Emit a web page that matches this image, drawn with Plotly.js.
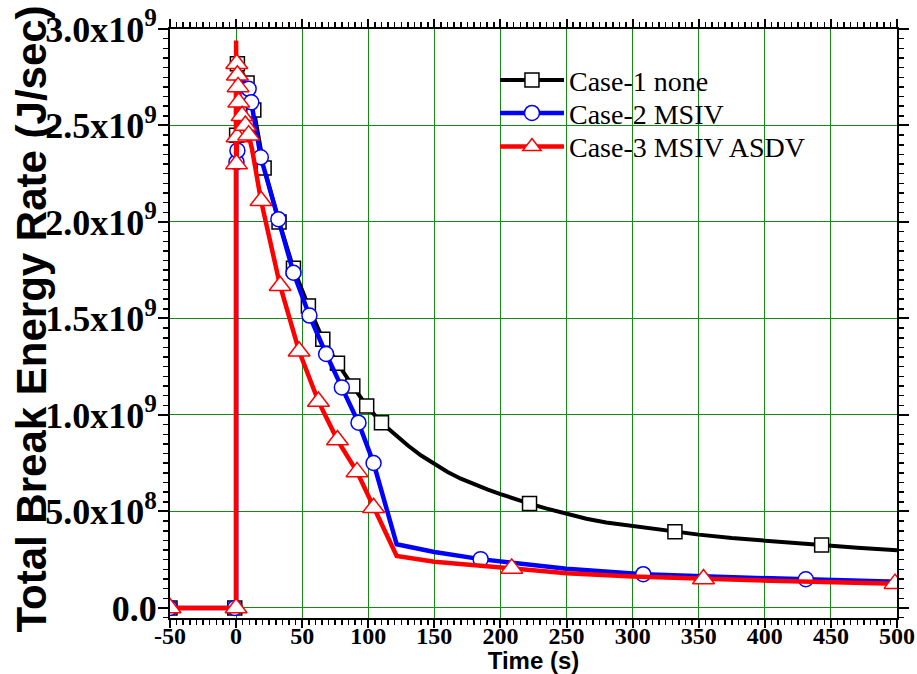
<!DOCTYPE html>
<html>
<head>
<meta charset="utf-8">
<script src="https://cdn.plot.ly/plotly-3.0.1.min.js"></script>
<style>html,body{margin:0;padding:0;background:#fff;}#chart{width:917px;height:674px;}</style>
</head>
<body>
<div id="chart"></div>
<script>
// ---- Data (time in s, energy rate in J/sec) ----
const case1Name = "Case-1 none";
const case2Name = "Case-2 MSIV";
const case3Name = "Case-3 MSIV ASDV";

// Case-1 curve
const case1T = [-50, 0, 0, 0.4, 1, 3, 8.3, 13.4, 21.2, 32.5, 43.4, 54.7, 65.6, 76.7, 88.3, 98.8, 110, 115, 120, 125, 130, 140, 150, 160, 170, 180, 190, 200, 210, 222, 235, 250, 265, 280, 300, 315, 332, 350, 375, 400, 420, 443, 470, 500];
const case1V = [0, 0, 2.80e9, 2.45e9, 2.82e9, 2.80e9, 2.72e9, 2.58e9, 2.28e9, 2.00e9, 1.76e9, 1.565e9, 1.392e9, 1.268e9, 1.15e9, 1.047e9, 0.96e9, 0.93e9, 0.90e9, 0.87e9, 0.842e9, 0.79e9, 0.745e9, 0.705e9, 0.67e9, 0.64e9, 0.614e9, 0.59e9, 0.567e9, 0.541e9, 0.515e9, 0.487e9, 0.462e9, 0.443e9, 0.424e9, 0.41e9, 0.395e9, 0.38e9, 0.362e9, 0.347e9, 0.337e9, 0.326e9, 0.312e9, 0.299e9];
// Case-1 symbols
const case1MarkT = [-50, -1, 0.4, 1, 8.3, 13.4, 21.2, 32.5, 43.4, 54.7, 65.6, 76.7, 88.3, 98.8, 110, 222, 332, 443];
const case1MarkV = [0, 0, 2.45e9, 2.82e9, 2.72e9, 2.58e9, 2.28e9, 2.00e9, 1.76e9, 1.565e9, 1.392e9, 1.268e9, 1.15e9, 1.047e9, 0.96e9, 0.541e9, 0.395e9, 0.326e9];

// Case-2 curve
const case2T = [-50, 0, 0, 0.3, 0.6, 1, 3, 9.5, 11.5, 18.7, 32, 43.4, 55.5, 68.1, 80, 92.6, 104, 121.5, 150, 185, 250, 308, 370, 431, 500];
const case2V = [0, 0, 2.86e9, 2.31e9, 2.80e9, 2.37e9, 2.76e9, 2.69e9, 2.62e9, 2.335e9, 2.014e9, 1.737e9, 1.515e9, 1.316e9, 1.143e9, 0.96e9, 0.751e9, 0.33e9, 0.29e9, 0.253e9, 0.203e9, 0.175e9, 0.16e9, 0.149e9, 0.136e9];
// Case-2 symbols
const case2MarkT = [-50, -1, 0.3, 1, 9.5, 11.5, 18.7, 32, 43.4, 55.5, 68.1, 80, 92.6, 104, 185, 308, 431];
const case2MarkV = [0, 0, 2.31e9, 2.37e9, 2.69e9, 2.62e9, 2.335e9, 2.014e9, 1.737e9, 1.515e9, 1.316e9, 1.143e9, 0.96e9, 0.751e9, 0.253e9, 0.175e9, 0.149e9];

// Case-3 curve
const case3T = [-50, 0, 0, 0.3, 0.5, 0.8, 1, 1.5, 2, 4.5, 7, 9.5, 12, 18.9, 33.3, 47.7, 62.3, 76.7, 91.5, 104, 121.5, 150, 208.5, 250, 300, 353.6, 420, 500];
const case3V = [0, 0, 2.94e9, 2.30e9, 2.82e9, 2.44e9, 2.76e9, 2.70e9, 2.62e9, 2.55e9, 2.50e9, 2.45e9, 2.38e9, 2.11e9, 1.67e9, 1.33e9, 1.07e9, 0.87e9, 0.705e9, 0.519e9, 0.27e9, 0.24e9, 0.205e9, 0.18e9, 0.163e9, 0.15e9, 0.138e9, 0.125e9];
// Case-3 symbols
const case3MarkT = [-50, 0, 0.3, 0.5, 0.8, 1, 1.5, 2, 4.5, 7, 9.5, 18.9, 33.3, 47.7, 62.3, 76.7, 91.5, 104, 208.5, 353.6, 498.5];
const case3MarkV = [0, 0, 2.30e9, 2.82e9, 2.44e9, 2.76e9, 2.70e9, 2.62e9, 2.55e9, 2.50e9, 2.45e9, 2.11e9, 1.67e9, 1.33e9, 1.07e9, 0.87e9, 0.705e9, 0.519e9, 0.205e9, 0.15e9, 0.126e9];

// Axis ticks
const xTickVals = [-50, 0, 50, 100, 150, 200, 250, 300, 350, 400, 450, 500];
const xTickText = ["-50", "0", "50", "100", "150", "200", "250", "300", "350", "400", "450", "500"];
const yTickVals = [0, 0.5e9, 1.0e9, 1.5e9, 2.0e9, 2.5e9, 3.0e9];
const yTickText = ["0.0", "5.0x10<sup>8</sup>", "1.0x10<sup>9</sup>", "1.5x10<sup>9</sup>", "2.0x10<sup>9</sup>", "2.5x10<sup>9</sup>", "3.0x10<sup>9</sup>"];

const xTitle = "Time (s)";
const yTitle = "Total Break Energy Rate (J/sec)";

// ---- Styles ----
const styles = [
  {name: case1Name, color: "#000000", symbol: "square", size: 14, width: 4, legend: "legend", ly: 0.913},
  {name: case2Name, color: "#0000ff", symbol: "circle", size: 15, width: 4.5, legend: "legend2", ly: 0.857},
  {name: case3Name, color: "#ff0000", symbol: "triangle-up", size: 19, width: 4.5, legend: "legend3", ly: 0.800}
];
const curves = [[case1T, case1V], [case2T, case2V], [case3T, case3V]];
const marks = [[case1MarkT, case1MarkV], [case2MarkT, case2MarkV], [case3MarkT, case3MarkV]];

const traces = [];
for (let i = 0; i < 3; i++) {
  const s = styles[i];
  traces.push({
    x: curves[i][0], y: curves[i][1], type: "scatter", mode: "lines",
    line: {color: s.color, width: s.width}, showlegend: false, hoverinfo: "skip"
  });
  traces.push({
    x: marks[i][0], y: marks[i][1], type: "scatter", mode: "markers",
    marker: {symbol: s.symbol, size: s.size, color: "#ffffff", line: {color: s.color, width: 1.5}},
    showlegend: false
  });
}
// legend entries
for (let i = 0; i < 3; i++) {
  const s = styles[i];
  traces.push({
    x: [null], y: [null], type: "scatter", mode: "lines+markers", name: s.name,
    legend: s.legend,
    line: {color: s.color, width: s.width},
    marker: {symbol: s.symbol, size: s.size, color: "#ffffff", line: {color: s.color, width: 1.5}}
  });
}

function legendBox(y) {
  return {
    x: 0.447, y: y, xanchor: "left", yanchor: "middle",
    bgcolor: "rgba(0,0,0,0)", borderwidth: 0,
    font: {family: "Liberation Serif", size: 28, color: "#000"},
    itemwidth: 64, tracegroupgap: 0
  };
}

const gridColor = "#138a13";
const layout = {
  width: 917, height: 674,
  margin: {l: 170, r: 20, t: 29, b: 56, pad: 0},
  paper_bgcolor: "#ffffff", plot_bgcolor: "#ffffff",
  showlegend: true,
  legend: legendBox(styles[0].ly),
  legend2: legendBox(styles[1].ly),
  legend3: legendBox(styles[2].ly),
  xaxis: {
    range: [-50, 500], tickmode: "array", tickvals: xTickVals, ticktext: xTickText,
    showgrid: true, gridcolor: gridColor, gridwidth: 1, zeroline: false,
    showline: true, linecolor: "#000", linewidth: 2, mirror: "ticks",
    ticks: "outside", ticklen: 8, tickwidth: 2, tickcolor: "#000",
    minor: {dtick: 5, tick0: 0, ticks: "outside", ticklen: 5, tickwidth: 1.5, tickcolor: "#000", showgrid: false},
    tickfont: {family: "Liberation Serif", size: 24, color: "#000", weight: "bold"},
    ticklabelstandoff: -13,
    title: {text: xTitle, font: {family: "Liberation Sans", size: 24, color: "#000", weight: "bold"}, standoff: 3},
    automargin: false
  },
  yaxis: {
    range: [-0.052e9, 3.0e9], tickmode: "array", tickvals: yTickVals, ticktext: yTickText,
    showgrid: true, gridcolor: gridColor, gridwidth: 1, zeroline: false,
    showline: true, linecolor: "#000", linewidth: 2, mirror: "ticks",
    ticks: "outside", ticklen: 10, tickwidth: 2, tickcolor: "#000",
    minor: {dtick: 0.05e9, tick0: 0, ticks: "outside", ticklen: 5, tickwidth: 1.5, tickcolor: "#000", showgrid: false},
    tickfont: {family: "Liberation Serif", size: 36, color: "#000", weight: "bold"},
    ticklabelstandoff: -6,
    automargin: false
  },
  annotations: [{
    text: yTitle, xref: "paper", yref: "paper", x: -0.191, y: 0.507,
    xanchor: "center", yanchor: "middle", textangle: -90, showarrow: false,
    font: {family: "Liberation Sans", size: 42, color: "#000", weight: "bold"}
  }]
};

Plotly.newPlot("chart", traces, layout, {staticPlot: true, displayModeBar: false});
</script>
</body>
</html>
